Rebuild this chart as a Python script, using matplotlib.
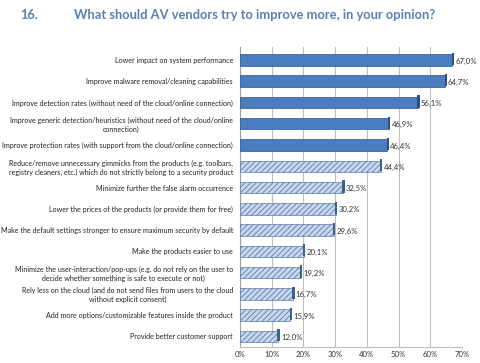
import matplotlib.pyplot as plt
import numpy as np

# survey answers, top to bottom as in the chart
categories = [
    "Lower impact on system performance",
    "Improve malware removal/cleaning capabilities",
    "Improve detection rates (without need of the cloud/online connection)",
    "Improve generic detection/heuristics (without need of the cloud/online\nconnection)",
    "Improve protection rates (with support from the cloud/online connection)",
    "Reduce/remove unnecessary gimmicks from the products (e.g. toolbars,\nregistry cleaners, etc.) which do not strictly belong to a security product",
    "Minimize further the false alarm occurrence",
    "Lower the prices of the products (or provide them for free)",
    "Make the default settings stronger to ensure maximum security by default",
    "Make the products easier to use",
    "Minimize the user-interaction/pop-ups (e.g. do not rely on the user to\ndecide whether something is safe to execute or not)",
    "Rely less on the cloud (and do not send files from users to the cloud\nwithout explicit consent)",
    "Add more options/customizable features inside the product",
    "Provide better customer support",
]
values = [67.0, 64.7, 56.1, 46.9, 46.4, 44.4, 32.5, 30.2, 29.6, 20.1, 19.2, 16.7, 15.9, 12.0]
n_solid = 5  # the first five bars are filled, the rest hatched
xticks = [0, 10, 20, 30, 40, 50, 60, 70]

plt.rcParams['font.family'] = ['Lato', 'DejaVu Sans']
plt.rcParams['hatch.color'] = '#4a6f9f'
plt.rcParams['hatch.linewidth'] = 0.6

fig = plt.figure(figsize=(4.8, 3.63), dpi=100)
ax = fig.add_axes([0.5, 0.044, 0.4625, 0.826])

y = np.arange(len(values))
for i, v in enumerate(values):
    if i < n_solid:
        ax.barh(y[i], v, height=0.54, color='#4a7cc0', edgecolor='#2f5488', linewidth=0.5, zorder=3)
        cap = '#2a4f86'
    else:
        ax.barh(y[i], v, height=0.54, color='#c9d7ec', edgecolor='#5a7cab', hatch='//////',
                linewidth=0.5, zorder=3)
        cap = '#3d5f8e'
    # darker end face for the 3d look
    ax.barh(y[i] - 0.05, 0.7, left=v - 0.2, height=0.58, color=cap, linewidth=0, zorder=4)
    ax.text(v + 0.9, y[i] + 0.05, f"{v:.1f}%".replace('.', ','), va='center', ha='left',
            fontsize=5.6, color='#333333', zorder=5)

ax.set_ylim(len(values) - 0.5, -0.6)
ax.set_xlim(0, 70)
ax.set_xticks(xticks)
ax.set_xticklabels([f"{t}%" for t in xticks], fontsize=5.6, color='#333333')
ax.set_yticks(y)
ax.set_yticklabels(categories, fontsize=5.15, color='#222222', linespacing=1.25)
for lab in ax.get_yticklabels():
    lab.set_horizontalalignment('right')
    lab.set_multialignment('center')
ax.tick_params(axis='y', length=0, pad=5)
ax.tick_params(axis='x', length=0, pad=3)

ax.grid(axis='x', color='#bfbfbf', linewidth=0.8, zorder=0)
for s in ['top', 'right']:
    ax.spines[s].set_visible(False)
ax.spines['left'].set_color('#a0a0a0')
ax.spines['bottom'].set_color('#bfbfbf')

# title row
fig.text(0.042, 0.958, "16.", fontsize=9.3, fontweight='bold', color='#5b7fb5', va='center')
fig.text(0.155, 0.958, "What should AV vendors try to improve more, in your opinion?",
         fontsize=9.3, fontweight='bold', color='#5b7fb5', va='center')

fig.savefig('out.png', dpi=100)
